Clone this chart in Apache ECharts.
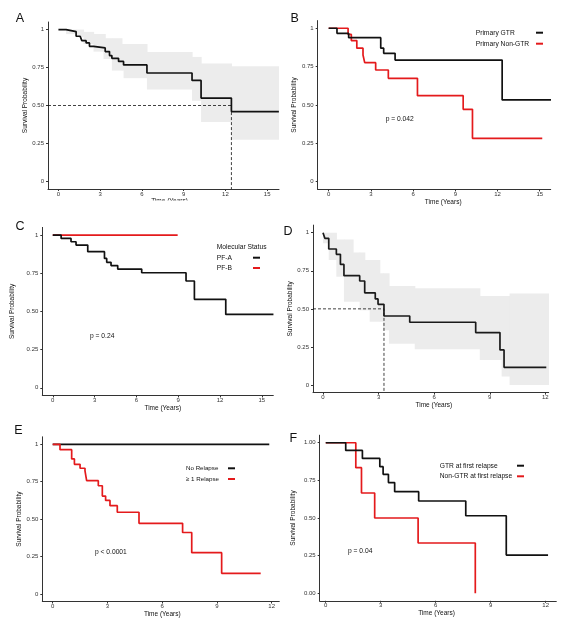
<!DOCTYPE html>
<html>
<head>
<meta charset="utf-8">
<title>Survival panels A-F</title>
<script src="https://cdn.jsdelivr.net/npm/echarts@6/dist/echarts.min.js"></script>
<style>
  html, body { margin: 0; padding: 0; background: #fff; }
  #main { width: 566px; height: 623px; }
</style>
</head>
<body>
<div id="main"></div>
<script>
// ---------- data ----------
var xTicks15 = [0, 3, 6, 9, 12, 15];
var xTicks12 = [0, 3, 6, 9, 12];
var yTicks = [0, 0.25, 0.5, 0.75, 1];
var yTickLabels = ['0', '0.25', '0.50', '0.75', '1'];
var yTickLabelsF = ['0.00', '0.25', '0.50', '0.75', '1.00'];
var panelLetters = ['A', 'B', 'C', 'D', 'E', 'F'];

// A: whole cohort
var aTime = [0, 0.55, 1.27, 1.56, 1.68, 1.99, 2.23, 2.52, 3.36, 3.67, 3.84, 4.32, 4.68, 6.36, 9.6, 10.25, 12.43, 15.84];
var aSurv = [1, 0.987, 0.956, 0.943, 0.927, 0.912, 0.89, 0.879, 0.855, 0.829, 0.811, 0.79, 0.767, 0.714, 0.665, 0.549, 0.46, 0.46];
var aBandTime  = [0, 0.55, 1.27, 1.8, 2.52, 3.24, 3.36, 3.84, 4.56, 4.68, 6.36, 9.6, 10.25, 12.43, 15.84];
var aBandUpper = [1, 1, 1, 0.985, 0.971, 0.971, 0.943, 0.943, 0.905, 0.905, 0.853, 0.82, 0.776, 0.758, 0.758];
var aBandLower = [1, 0.97, 0.95, 0.905, 0.855, 0.806, 0.806, 0.73, 0.73, 0.68, 0.606, 0.531, 0.392, 0.275, 0.275];
var aMedian = 12.43;

// B: extent of primary resection
var bNames = ['Primary GTR', 'Primary Non-GTR'];
var bGtrTime = [0, 0.59, 1.42, 3.7, 3.91, 4.72, 12.33, 15.8];
var bGtrSurv = [1, 0.967, 0.939, 0.87, 0.837, 0.793, 0.533, 0.533];
var bNonTime = [0, 1.38, 1.61, 2.0, 2.44, 2.56, 3.34, 4.24, 6.31, 9.56, 10.22, 15.18];
var bNonSurv = [1, 0.96, 0.92, 0.87, 0.826, 0.776, 0.728, 0.674, 0.561, 0.472, 0.283, 0.283];
var bP = 'p = 0.042';

// C: molecular status
var cTitle = 'Molecular Status';
var cNames = ['PF-A', 'PF-B'];
var cATime = [0, 0.6, 1.31, 1.67, 2.51, 3.71, 3.87, 4.18, 4.66, 6.38, 9.56, 10.16, 12.41, 15.83];
var cASurv = [1, 0.978, 0.956, 0.934, 0.891, 0.847, 0.821, 0.8, 0.777, 0.753, 0.699, 0.579, 0.48, 0.48];
var cBTime = [0, 8.96];
var cBSurv = [1, 1];
var cP = 'p = 0.24';

// D: after first relapse
var dTime = [0, 0.1, 0.31, 0.72, 0.94, 1.13, 1.98, 2.25, 2.82, 2.97, 3.29, 4.68, 8.24, 9.55, 9.77, 12.05];
var dSurv = [1, 0.963, 0.893, 0.858, 0.792, 0.718, 0.683, 0.605, 0.565, 0.53, 0.453, 0.412, 0.344, 0.23, 0.116, 0.116];
var dBandTime  = [0, 0.31, 0.72, 1.13, 1.62, 1.98, 2.25, 2.52, 3.06, 3.24, 3.56, 4.95, 8.46, 9.64, 10.07, 12.18];
var dBandUpper = [1, 1, 0.956, 0.956, 0.87, 0.87, 0.82, 0.82, 0.733, 0.733, 0.65, 0.635, 0.584, 0.584, 0.6, 0.6];
var dBandLower = [0.93, 0.82, 0.71, 0.547, 0.547, 0.49, 0.49, 0.416, 0.416, 0.36, 0.27, 0.234, 0.164, 0.055, 0, 0];
var dMedian = 3.29;

// E: relapse
var eNames = ['No Relapse', '\u2265 1 Relapse'];
var eNoTime = [0, 11.87];
var eNoSurv = [1, 1];
var eRelTime = [0, 0.4, 1.04, 1.19, 1.5, 1.77, 1.86, 2.5, 2.72, 2.9, 3.14, 3.54, 4.73, 7.12, 7.62, 9.26, 11.4];
var eRelSurv = [1, 0.964, 0.902, 0.866, 0.84, 0.822, 0.757, 0.723, 0.654, 0.625, 0.59, 0.546, 0.472, 0.411, 0.276, 0.138, 0.138];
var eP = 'p < 0.0001';

// F: resection at first relapse
var fNames = ['GTR at first relapse', 'Non-GTR at first relapse'];
var fGtrTime = [0, 1.09, 2.0, 2.95, 3.13, 3.42, 3.76, 5.07, 7.64, 9.85, 12.13];
var fGtrSurv = [1, 0.949, 0.896, 0.841, 0.79, 0.735, 0.675, 0.613, 0.515, 0.254, 0.254];
var fNonTime = [0, 1.64, 1.95, 2.67, 5.04, 8.16];
var fNonSurv = [1, 0.834, 0.666, 0.5, 0.334, 0];
var fP = 'p = 0.04';

// ---------- layout ----------
var FONT = '"Liberation Sans", Arial, Helvetica, sans-serif';
var BLACK = '#111111';
var RED = '#e41a1c';
var BAND = '#ececec';

// grids: [left, top, width, height], x range, y name gap, x name gap, x name shift
var panels = [
  { box: [48, 22, 231, 167],      x: [-0.75, 15.85], ticks: xTicks15, yGap: 19, xGap: 6.5, shift: 6 },
  { box: [317.7, 20.6, 233, 168.8], x: [-0.78, 15.78], ticks: xTicks15, yGap: 18, xGap: 6.5, shift: 9 },
  { box: [42.3, 227.4, 231, 168], x: [-0.75, 15.82], ticks: xTicks15, yGap: 27, xGap: 8, shift: 5 },
  { box: [313, 225.1, 235.7, 167.5], x: [-0.54, 12.18], ticks: xTicks12, yGap: 18, xGap: 6.5, shift: 3 },
  { box: [42.3, 436.8, 237, 164.7], x: [-0.57, 12.42], ticks: xTicks12, yGap: 19, xGap: 8, shift: 1.5 },
  { box: [319.7, 435.2, 236.6, 165.6], x: [-0.33, 12.58], ticks: xTicks12, yGap: 23, xGap: 7, shift: -1.5, fLabels: true }
];

function pairs(t, s) {
  return t.map(function (v, i) { return [v, s[i]]; });
}

function km(gi, name, t, s, color, z) {
  return {
    type: 'line', name: name, xAxisIndex: gi, yAxisIndex: gi,
    data: pairs(t, s), step: 'end', symbol: 'none', silent: true,
    lineStyle: { color: color, width: 1.7 }, z: z
  };
}

// confidence band: one rect per step interval [t0, t1, lower, upper]
function band(gi, t, lo, up) {
  var data = [];
  for (var i = 0; i < t.length - 1; i++) data.push([t[i], t[i + 1], lo[i], up[i]]);
  return {
    type: 'custom', xAxisIndex: gi, yAxisIndex: gi, silent: true, z: 1, clip: true,
    encode: { x: [0, 1], y: [2, 3] },
    data: data,
    renderItem: function (params, api) {
      var p0 = api.coord([api.value(0), api.value(3)]);
      var p1 = api.coord([api.value(1), api.value(2)]);
      return {
        type: 'rect',
        shape: { x: p0[0], y: p0[1], width: p1[0] - p0[0] + 0.6, height: p1[1] - p0[1] },
        style: { fill: BAND }
      };
    }
  };
}

function medianLine(gi, m, xmin) {
  return {
    type: 'line', xAxisIndex: gi, yAxisIndex: gi, symbol: 'none', silent: true,
    data: [[xmin, 0.5], [m, 0.5], [m, -0.05]],
    lineStyle: { color: BLACK, width: 0.8, type: [3, 2] }, z: 3
  };
}

var grids = [], xAxes = [], yAxes = [];
panels.forEach(function (p, i) {
  grids.push({ left: p.box[0], top: p.box[1], width: p.box[2], height: p.box[3], containLabel: false });
  xAxes.push({
    type: 'value', gridIndex: i, min: p.x[0], max: p.x[1],
    name: 'Time (Years)', nameLocation: 'middle', nameGap: p.xGap,
    nameTextStyle: { fontSize: 6.5, color: BLACK, fontFamily: FONT,
      padding: p.shift >= 0 ? [0, 0, 0, 2 * p.shift] : [0, -2 * p.shift, 0, 0] },
    axisLine: { show: true, onZero: false, lineStyle: { color: '#333', width: 1 } },
    axisTick: { show: true, length: 2, customValues: p.ticks, lineStyle: { color: '#333' } },
    axisLabel: { customValues: p.ticks, fontSize: 6, color: '#333', fontFamily: FONT, margin: 2 },
    splitLine: { show: false }
  });
  var labels = p.fLabels ? yTickLabelsF : yTickLabels;
  yAxes.push({
    type: 'value', gridIndex: i, min: -0.05, max: 1.05,
    name: 'Survival Probability', nameLocation: 'middle', nameGap: p.yGap,
    nameTextStyle: { fontSize: 6.5, color: BLACK, fontFamily: FONT },
    axisLine: { show: true, onZero: false, lineStyle: { color: '#333', width: 1 } },
    axisTick: { show: true, length: 2, customValues: yTicks, lineStyle: { color: '#333' } },
    axisLabel: {
      customValues: yTicks, fontSize: 6, color: '#333', fontFamily: FONT, margin: 4,
      formatter: function (v) {
        for (var k = 0; k < yTicks.length; k++) {
          if (Math.abs(yTicks[k] - v) < 1e-6) return labels[k];
        }
        return '';
      }
    },
    splitLine: { show: false }
  });
});

var series = [];
// A
series.push(band(0, aBandTime, aBandLower, aBandUpper));
series.push(medianLine(0, aMedian, panels[0].x[0]));
series.push(km(0, 'All', aTime, aSurv, BLACK, 4));
// B
series.push(km(1, bNames[1], bNonTime, bNonSurv, RED, 4));
series.push(km(1, bNames[0], bGtrTime, bGtrSurv, BLACK, 5));
// C
series.push(km(2, cNames[1], cBTime, cBSurv, RED, 4));
series.push(km(2, cNames[0], cATime, cASurv, BLACK, 5));
// D
series.push(band(3, dBandTime, dBandLower, dBandUpper));
series.push(medianLine(3, dMedian, panels[3].x[0]));
series.push(km(3, 'Relapse', dTime, dSurv, '#1a1a1a', 4));
// E
series.push(km(4, eNames[0], eNoTime, eNoSurv, BLACK, 4));
series.push(km(4, eNames[1], eRelTime, eRelSurv, RED, 5));
// F
series.push(km(5, fNames[1], fNonTime, fNonSurv, RED, 4));
series.push(km(5, fNames[0], fGtrTime, fGtrSurv, BLACK, 5));

// ---------- annotations ----------
function txt(x, y, s, size, extra) {
  var st = { text: s, fontSize: size, fontFamily: FONT, fill: BLACK,
    textAlign: 'left', textVerticalAlign: 'middle', align: 'left', verticalAlign: 'middle' };
  if (extra) for (var k in extra) st[k] = extra[k];
  return { type: 'text', x: x, y: y, style: st, z: 50 };
}
function dash(x, y, color) {
  return { type: 'line', shape: { x1: x, y1: y, x2: x + 7, y2: y },
    style: { stroke: color, lineWidth: 2 }, z: 50 };
}

var letterPos = [[20, 19], [294.7, 18.3], [20, 227], [288, 231.3], [18.3, 431], [293.3, 438.3]];
var graphics = letterPos.map(function (p, i) {
  return txt(p[0], p[1], panelLetters[i], 12.5, { textAlign: 'center', align: 'center' });
});

// legends
graphics.push(txt(475.7, 32.7, bNames[0], 6.7), dash(536, 32.7, BLACK));
graphics.push(txt(475.7, 43.7, bNames[1], 6.7), dash(536, 43.7, RED));
graphics.push(txt(216.7, 247, cTitle, 6.7));
graphics.push(txt(216.7, 257.7, cNames[0], 6.7), dash(253, 257.7, BLACK));
graphics.push(txt(216.7, 268, cNames[1], 6.7), dash(253, 268, RED));
graphics.push(txt(186, 468.3, eNames[0], 6.2), dash(228, 468.3, BLACK));
graphics.push(txt(186, 479, eNames[1], 6.2), dash(228, 479, RED));
graphics.push(txt(439.7, 465.7, fNames[0], 6.7), dash(517, 465.7, BLACK));
graphics.push(txt(439.7, 476.3, fNames[1], 6.7), dash(517, 476.3, RED));

// p-values
graphics.push(txt(385.7, 119.3, bP, 6.7));
graphics.push(txt(90, 336, cP, 6.7));
graphics.push(txt(95, 551.7, eP, 6.7));
graphics.push(txt(348, 551, fP, 6.7));

// panel A's axis title is cropped at the bottom in the source figure
graphics.push({ type: 'rect', shape: { x: 120, y: 200.5, width: 100, height: 8 },
  style: { fill: '#ffffff' }, z: 100 });

var chart = echarts.init(document.getElementById('main'), null, { renderer: 'canvas' });
chart.setOption({
  animation: false,
  backgroundColor: '#ffffff',
  textStyle: { fontFamily: FONT },
  grid: grids,
  xAxis: xAxes,
  yAxis: yAxes,
  series: series,
  graphic: { elements: graphics }
});
</script>
</body>
</html>
